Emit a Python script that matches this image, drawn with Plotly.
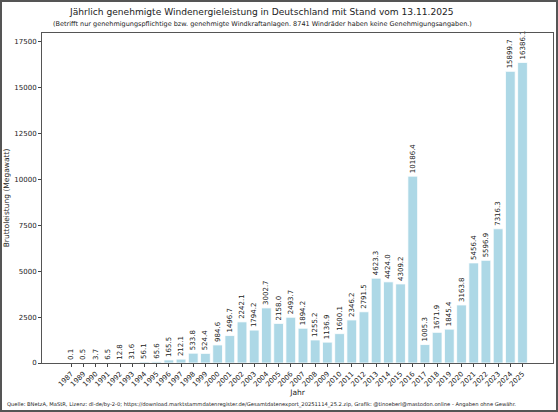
import plotly.graph_objects as go

jahre = ["1987", "1989", "1990", "1991", "1992", "1993", "1994", "1995", "1996",
         "1997", "1998", "1999", "2000", "2001", "2002", "2003", "2004", "2005",
         "2006", "2007", "2008", "2009", "2010", "2011", "2012", "2013", "2014",
         "2015", "2016", "2017", "2018", "2019", "2020", "2021", "2022", "2023",
         "2024", "2025"]
leistung = [0.1, 0.5, 3.7, 6.5, 12.8, 31.6, 56.1, 65.6, 165.5,
            212.1, 533.8, 524.4, 984.6, 1496.7, 2242.1, 1794.2, 3002.7, 2158.0,
            2493.7, 1894.2, 1255.2, 1136.9, 1600.1, 2346.2, 2791.5, 4623.3, 4424.0,
            4309.2, 10186.4, 1005.3, 1671.9, 1845.4, 3163.8, 5456.4, 5596.9, 7316.3,
            15899.7, 16386.1]
y_ticks = [0, 2500, 5000, 7500, 10000, 12500, 15000, 17500]

title = "Jährlich genehmigte Windenergieleistung in Deutschland mit Stand vom 13.11.2025"
subtitle = "(Betrifft nur genehmigungspflichtige bzw. genehmigte Windkraftanlagen. 8741 Windräder haben keine Genehmigungsangaben.)"
quelle = ("Quelle: BNetzA, MaStR, Lizenz: dl-de/by-2-0; https://download.marktstammdatenregister.de/"
          "Gesamtdatenexport_20251114_25.2.zip, Grafik: @tinoeberl@mastodon.online - Angaben ohne Gewähr.")

W, H = 558, 412
ml, mr, mt, mb = 42, 5, 33, 49
pw, ph = W - ml - mr, H - mt - mb

def px_x(x):
    return (x - ml) / pw

def px_y(y):
    return (H - mb - y) / ph

fig = go.Figure(go.Bar(
    x=list(range(len(jahre))), y=leistung,
    width=0.8,
    marker=dict(color="#ADD8E6", line=dict(color="white", width=0.8)),
    texttemplate="%{y:.1f}", textposition="outside", textangle=-90,
    textfont=dict(size=7, color="#222"), constraintext="none", cliponaxis=False,
))

fig.update_layout(
    width=W, height=H,
    margin=dict(l=ml, r=mr, t=mt, b=mb),
    paper_bgcolor="white", plot_bgcolor="white",
    font=dict(family="DejaVu Sans", color="#222", size=7),
    showlegend=False,
    xaxis=dict(
        tickmode="array", tickvals=list(range(len(jahre))), ticktext=jahre,
        tickangle=-45, range=[-2.4, 39.5], automargin=False,
        ticks="outside", ticklen=3, tickcolor="#444",
        showline=True, linecolor="#555", mirror=True, showgrid=False,
        tickfont=dict(size=7),
        title=dict(text="Jahr", font=dict(size=7.5), standoff=2),
    ),
    yaxis=dict(
        range=[0, 17990], tickvals=y_ticks, tickformat="d", automargin=False,
        ticks="outside", ticklen=3, tickcolor="#444",
        showline=True, linecolor="#555", mirror=True, showgrid=False, zeroline=False,
        tickfont=dict(size=7),
        title=dict(text="Bruttoleistung (Megawatt)", font=dict(size=7.5), standoff=3),
    ),
    annotations=[
        dict(text=title, x=px_x(261), y=px_y(12), xref="paper", yref="paper",
             xanchor="center", yanchor="middle", showarrow=False, font=dict(size=9.1)),
        dict(text=subtitle, x=px_x(262), y=px_y(24), xref="paper", yref="paper",
             xanchor="center", yanchor="middle", showarrow=False, font=dict(size=6.5)),
        dict(text=quelle, x=px_x(5), y=px_y(404), xref="paper", yref="paper",
             xanchor="left", yanchor="middle", showarrow=False, font=dict(size=5.2)),
    ],
    shapes=[
        dict(type="rect", xref="paper", yref="paper",
             x0=px_x(1), x1=px_x(W - 1), y0=px_y(H - 1), y1=px_y(1),
             line=dict(color="#555", width=2), layer="above"),
    ],
)

# page has a default 8px body margin, drop it so the figure fills the window
fig.write_html("out.html", config={"displayModeBar": False},
               post_script="document.body.style.margin='0';")
